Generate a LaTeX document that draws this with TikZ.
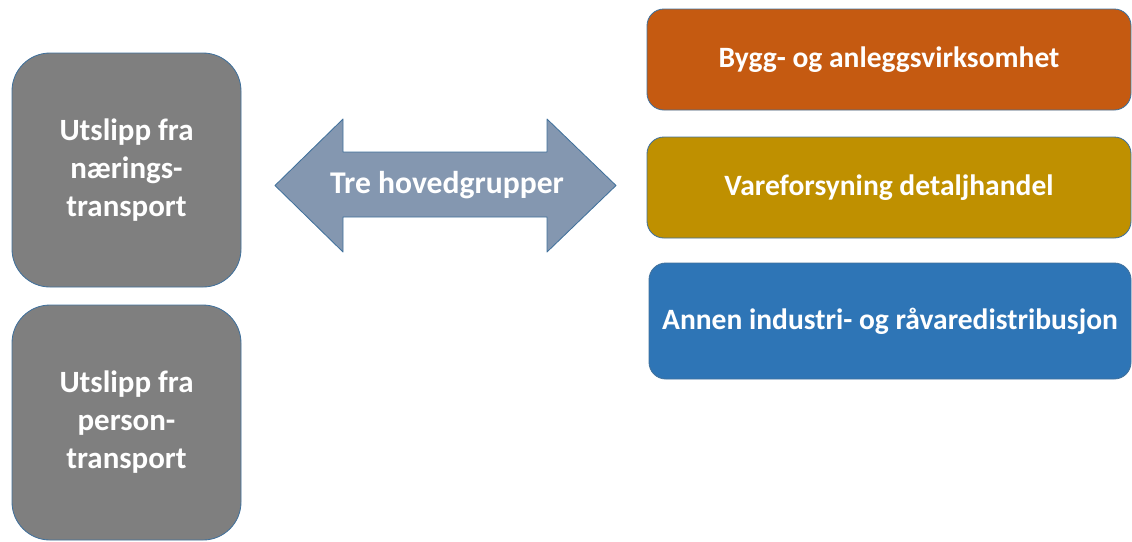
\documentclass[tikz,border=0pt]{standalone}
\usepackage{fontspec}
\setmainfont{Carlito}
\usetikzlibrary{positioning}
\definecolor{kant}{HTML}{41719C}
\definecolor{graa}{HTML}{7F7F7F}
\definecolor{oransje}{HTML}{C55A11}
\definecolor{gull}{HTML}{BF9000}
\definecolor{blaa}{HTML}{2E75B6}
\definecolor{pil}{HTML}{8497B0}
\tikzstyle{every node}=[font=\bfseries\fontsize{21}{27}\selectfont,text=white]
\tikzstyle{every path}=[line width=0.6pt,line join=round]
\tikzstyle{gruppe}=[draw=kant,fill=graa,rounded corners=0.95cm,minimum width=5.725cm,align=center,
font=\bfseries\fontsize{22}{27}\selectfont]
\tikzstyle{sektor}=[draw=kant,rounded corners=0.42cm,minimum width=12.1cm,minimum height=2.525cm]

\begin{document}
\begin{tikzpicture}
\useasboundingbox (0,0) rectangle (28.3,-13.525);

% venstre side
\node[gruppe,minimum height=5.85cm] (naering) at (3.1625,-4.25)
{Utslipp fra\\nærings-\\transport};
\node[gruppe,minimum height=5.875cm] (person) at (3.1625,-10.5625)
{Utslipp fra\\person-\\transport};

% pil i midten
\draw[draw=kant,fill=pil] (6.875,-4.6375)--(8.575,-2.975)--(8.575,-3.8)--(13.675,-3.8)
--(13.675,-2.975)--(15.4,-4.6375)--(13.675,-6.3)--(13.675,-5.425)--(8.575,-5.425)
--(8.575,-6.3)--cycle;
\node[font=\bfseries\fontsize{22.5}{27}\selectfont] (hoved) at (11.175,-4.6375) {Tre hovedgrupper};

% hoyre side
\node[sektor,fill=oransje] (bygg) at (22.225,-1.4875) {Bygg- og anleggsvirksomhet};
\node[sektor,fill=gull] (vare) at (22.225,-4.6875) {Vareforsyning detaljhandel};
\node[sektor,fill=blaa,minimum width=12.05cm,minimum height=2.9cm] (annen) at (22.25,-8.025)
{Annen industri- og råvaredistribusjon};
\end{tikzpicture}
\end{document}
